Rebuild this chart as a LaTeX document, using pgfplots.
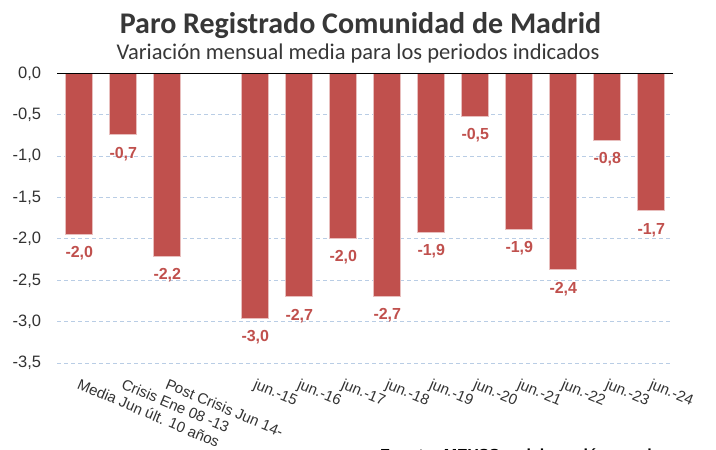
\documentclass[border=0pt]{standalone}
\usepackage{fontspec}
\setmainfont{Liberation Sans}
\newfontfamily\carlito{Carlito}
\usepackage{pgfplots}
\pgfplotsset{compat=1.18}
\definecolor{barred}{RGB}{192,80,77}
\definecolor{gridblue}{RGB}{185,205,229}
\definecolor{edgec}{RGB}{232,190,189}
\definecolor{ticktext}{RGB}{50,50,50}
\definecolor{titlegray}{RGB}{55,55,55}
\pgfplotstableread{
x y label
0 -1.94 {-2,0}
1 -0.74 {-0,7}
2 -2.21 {-2,2}
4 -2.96 {-3,0}
5 -2.70 {-2,7}
6 -1.99 {-2,0}
7 -2.69 {-2,7}
8 -1.92 {-1,9}
9 -0.52 {-0,5}
10 -1.88 {-1,9}
11 -2.37 {-2,4}
12 -0.81 {-0,8}
13 -1.66 {-1,7}
}\datatable
\begin{document}
\begin{tikzpicture}[x=1pt,y=1pt]
\begin{axis}[
  at={(57.3pt,86.9pt)}, anchor=south west,
  width=616pt, height=289.8pt, scale only axis,
  xmin=-0.5, xmax=13.5, ymin=-3.5, ymax=0,
  axis line style={draw=none},
  major tick length=0pt,
  ytick={-3.5,-3,-2.5,-2,-1.5,-1,-0.5,0},
  ymajorgrids,
  grid style={gridblue, dash pattern=on 4pt off 3pt, line width=0.9pt},
  yticklabel style={/pgf/number format/fixed, /pgf/number format/fixed zerofill, /pgf/number format/precision=1, /pgf/number format/use comma, /pgf/number format/assume math mode=true},
  yticklabel style={font=\fontsize{16.5}{16.5}\selectfont, text=ticktext, anchor=east, inner sep=0pt, xshift=-16pt},
  xtick={0,1,2,4,5,6,7,8,9,10,11,12,13},
  xticklabels={{Media Jun últ. 10 años},{Crisis Ene 08 -13},{Post Crisis Jun 14-},{jun.-15},{jun.-16},{jun.-17},{jun.-18},{jun.-19},{jun.-20},{jun.-21},{jun.-22},{jun.-23},{jun.-24}},
  xticklabel style={font=\fontsize{15}{15}\selectfont, text=ticktext, rotate=-23, anchor=north west, inner sep=0pt, yshift=-13pt, xshift=7pt},
  ybar, bar width=27pt,
  nodes near coords,
  point meta=explicit symbolic,
  every node near coord/.append style={font=\bfseries\fontsize{16}{16}\selectfont, text=barred, anchor=north, inner sep=0pt, yshift=-12pt},
  clip=false,
]
\addplot[fill=barred, draw=edgec, line width=0.8pt] table[x=x, y=y, meta=label] {\datatable};
\draw[black, line width=1.2pt] (axis cs:-0.5,0) -- (axis cs:13.5,0);
\end{axis}
\node[font=\carlito\bfseries\fontsize{30}{30}\selectfont, text=titlegray, anchor=base] at (360.5pt,416pt) {Paro Registrado Comunidad de Madrid};
\node[font=\carlito\fontsize{22.5}{22.5}\selectfont, text=titlegray, anchor=base] at (358pt,390pt) {Variación mensual media para los periodos indicados};
\node[font=\bfseries\fontsize{16}{16}\selectfont, text=black, anchor=north west, inner sep=0pt] at (380pt,1pt) {Fuente: MEYSS y elaboración propia};
\pgfresetboundingbox
\path[use as bounding box] (0pt,0pt) rectangle (716pt,450pt);
\end{tikzpicture}
\end{document}
